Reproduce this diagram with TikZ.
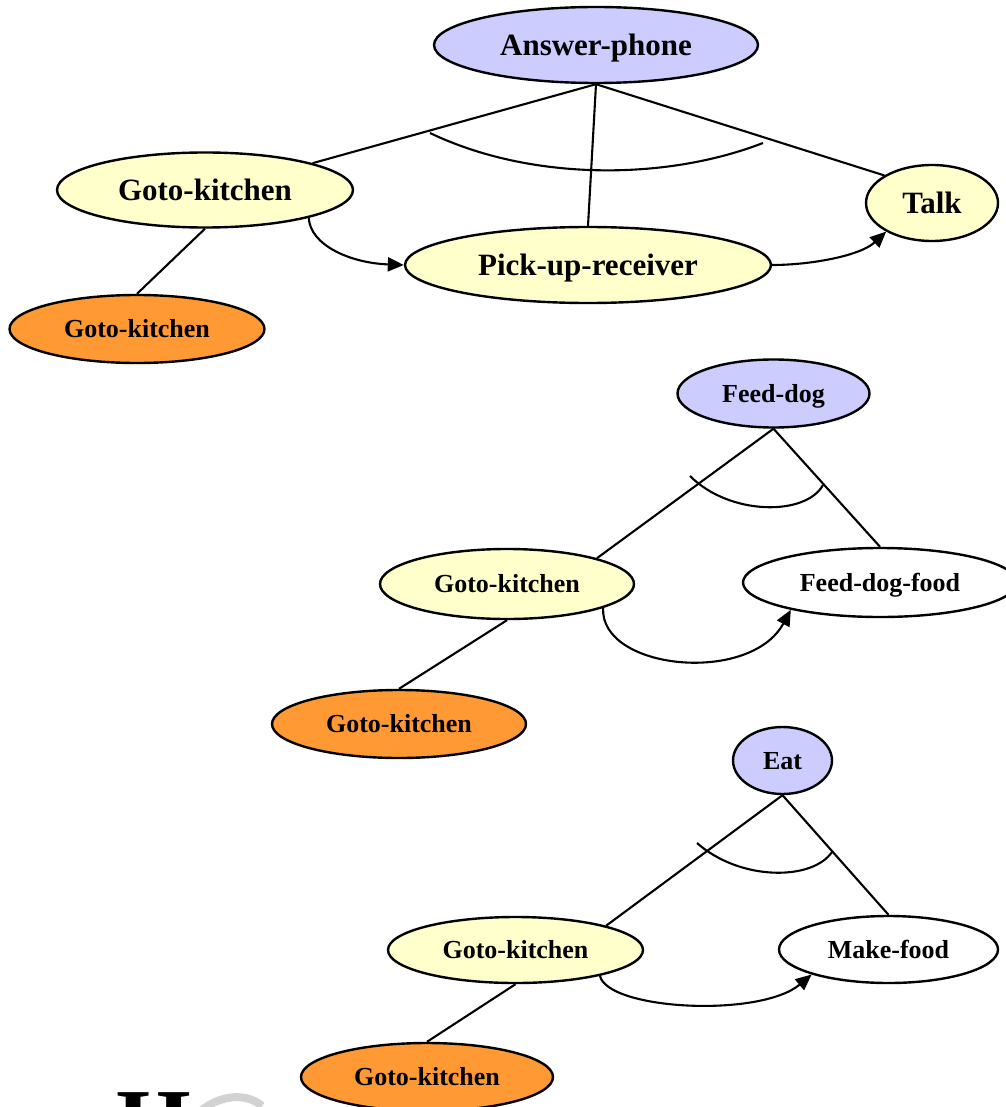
\documentclass[tikz,border=0pt]{standalone}
\usepackage{fontspec}
\setmainfont{Liberation Serif}
\usetikzlibrary{shapes.geometric,arrows.meta}
\definecolor{goalblue}{HTML}{CCCCFF}
\definecolor{stepyellow}{HTML}{FFFFCC}
\definecolor{primorange}{HTML}{FF9933}
\begin{document}
\begin{tikzpicture}[x=1pt,y=-1pt,
  task/.style={ellipse, draw=black, line width=2.4pt, inner sep=0pt,
    text height=17.8pt, text depth=0pt, font=\bfseries\fontsize{26}{30}\selectfont},
  big/.style={text height=21pt, font=\bfseries\fontsize{31}{36}\selectfont},
  goal/.style={task, fill=goalblue},
  sub/.style={task, fill=stepyellow},
  prim/.style={task, fill=primorange},
  plain/.style={task, fill=white},
  link/.style={line width=2.1pt},
  seq/.style={line width=2.1pt, -{Triangle[length=16pt,width=14pt]}},
  andarc/.style={line width=2.1pt},
]
\useasboundingbox (0,0) rectangle (1005,1107);

% ---------- Answer-phone ----------
\node[goal, big, minimum width=324pt, minimum height=76pt] (ap) at (596,45) {Answer-phone};
\node[sub, big, minimum width=296pt, minimum height=75pt] (gk1) at (205,190) {Goto-kitchen};
\node[sub, big, minimum width=366pt, minimum height=76pt] (pr) at (588,265) {Pick-up-receiver};
\node[sub, big, minimum width=132pt, minimum height=76pt] (talk) at (932,203) {Talk};
\node[prim, minimum width=255pt, minimum height=68pt] (ok1) at (137,329) {Goto-kitchen};

\draw[link] (ap.south) -- (gk1.14);
\draw[link] (ap.south) -- (pr.north);
\draw[link] (ap.south) -- (talk.150);
\draw[andarc] (430,133) .. controls (530,181) and (665,181) .. (763,143);
\draw[link] (gk1.south) -- (ok1.north);
\draw[seq] (gk1.-15) .. controls (310,245) and (350,263) .. (pr.west);
\draw[seq] (pr.east) .. controls (810,265) and (860,256) .. (talk.212);

% ---------- Feed-dog ----------
\node[goal, minimum width=192pt, minimum height=68pt] (fd) at (773.5,393.5) {Feed-dog};
\node[sub, minimum width=254pt, minimum height=70pt] (gk2) at (507,584) {Goto-kitchen};
\node[plain, minimum width=274pt, minimum height=69pt] (fdf) at (880,582.5) {Feed-dog-food};
\node[prim, minimum width=254pt, minimum height=68pt] (ok2) at (399,724) {Goto-kitchen};

\draw[link] (fd.south) -- (gk2.16);
\draw[link] (fd.south) -- (fdf.north);
\draw[andarc] (690,476) .. controls (730,516) and (806,516) .. (823,485);
\draw[link] (gk2.south) -- (ok2.north);
\draw[seq] (gk2.-14) .. controls (600,670) and (750,685) .. (fdf.-163);

% ---------- Eat ----------
\node[goal, minimum width=99pt, minimum height=67pt] (eat) at (782.5,760.5) {Eat};
\node[sub, minimum width=255pt, minimum height=66pt] (gk3) at (515.5,950) {Goto-kitchen};
\node[plain, minimum width=219pt, minimum height=67pt] (mf) at (888.5,949.5) {Make-food};
\node[prim, minimum width=252pt, minimum height=68pt] (ok3) at (427,1077) {Goto-kitchen};

\draw[link] (eat.south) -- (gk3.15);
\draw[link] (eat.south) -- (mf.north);
\draw[andarc] (697,843) .. controls (740,881) and (812,881) .. (832,852);
\draw[link] (gk3.south) -- (ok3.north);
\draw[seq] (gk3.-17) .. controls (608,1010) and (760,1018) .. (mf.-162);

% ---------- logo fragment at the lower edge ----------
\draw[gray!35, line width=8pt] (198,1114) .. controls (215,1096) and (245,1091) .. (262,1106);
\node[anchor=north west, inner sep=0pt, font=\bfseries\fontsize{96}{96}\selectfont] (logo) at (116,1092) {H};
\end{tikzpicture}
\end{document}
